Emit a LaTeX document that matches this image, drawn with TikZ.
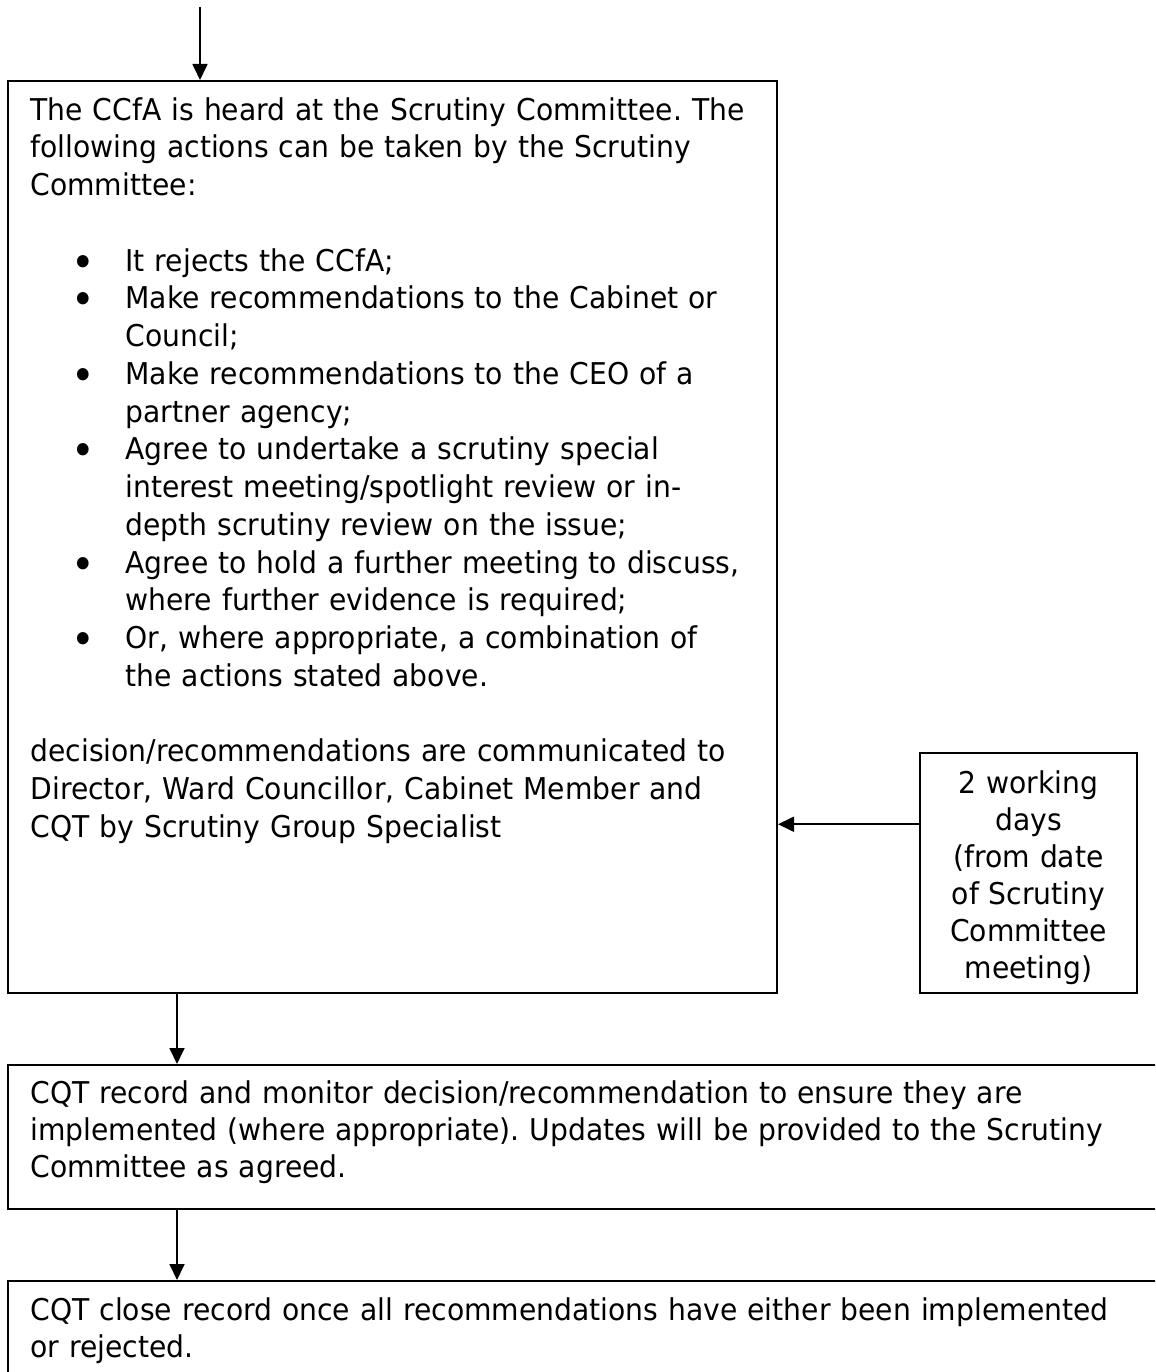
\documentclass[tikz,border=0pt]{standalone}
\usepackage{fontspec}
\setmainfont{DejaVu Sans}[FakeStretch=0.94]
\usetikzlibrary{arrows.meta}
\frenchspacing
\newcommand{\bitem}{\makebox[38pt][l]{\hspace{16.5pt}%
  \smash{\raisebox{-2.4pt}{\fontsize{17}{17}\selectfont\textbullet}}}}
\newcommand{\bcont}{\hspace*{38pt}}
\begin{document}
\begin{tikzpicture}
[x=0.4pt,y=-0.4pt,
  boxdecorate/.style={shape=rectangle,draw,line width=0.8pt,inner sep=0pt},
  textdecorate/.style={inner sep=0pt,align=left,text width=460pt,
    anchor=base west,font=\fontsize{12}{14.8}\selectfont},
  linedecorate/.style={-{Triangle[length=6.4pt,width=6pt]},line width=0.7pt}]
\useasboundingbox (0,0) rectangle (1155,1372);
\clip (0,0) rectangle (1155,1372);
%% boxes
\foreach \nodename/\x/\y/\w/\h in {scrutiny/392.5/537/307.6pt/364.8pt,
  timing/1028.5/873/86.8pt/96pt, monitor/591.5/1137/466.8pt/57.6pt,
  closing/591.5/1350.5/466.8pt/55.6pt} {
  \node (\nodename) at (\x,\y) [boxdecorate,minimum width=\w,minimum height=\h] {};
}
%% texts
\node (scrutinytext) at (30,120) [textdecorate,font=\fontsize{12}{15.1}\selectfont]
{The CCfA is heard at the Scrutiny Committee. The\\
following actions can be taken by the Scrutiny\\
Committee:\\[15.1pt]
\bitem It rejects the CCfA;\\
\bitem Make recommendations to the Cabinet or\\
\bcont Council;\\
\bitem Make recommendations to the CEO of a\\
\bcont partner agency;\\
\bitem Agree to undertake a scrutiny special\\
\bcont interest meeting/spotlight review or in-\\
\bcont depth scrutiny review on the issue;\\
\bitem Agree to hold a further meeting to discuss,\\
\bcont where further evidence is required;\\
\bitem Or, where appropriate, a combination of\\
\bcont the actions stated above.\\[15.1pt]
decision/recommendations are communicated to\\
Director, Ward Councillor, Cabinet Member and\\
CQT by Scrutiny Group Specialist};
\node (timingtext) at (1028.5,793) [textdecorate,anchor=base,align=center,
  text width=100pt] {2 working\\days\\(from date\\of Scrutiny\\Committee\\meeting)};
\node (monitortext) at (30,1103) [textdecorate]
{CQT record and monitor decision/recommendation to ensure they are\\
implemented (where appropriate). Updates will be provided to the Scrutiny\\
Committee as agreed.};
\node (closingtext) at (30,1320) [textdecorate]
{CQT close record once all recommendations have either been implemented\\
or rejected.};
%% arrows
\coordinate (entry) at (200,7);
\coordinate (drop) at (177,0);
\draw[linedecorate] (entry) -- (entry |- scrutiny.north);
\draw[linedecorate] (timing.156) -- (timing.156 -| scrutiny.east);
\draw[linedecorate] (scrutiny.south -| drop) -- (monitor.north -| drop);
\draw[linedecorate] (monitor.south -| drop) -- (closing.north -| drop);
\end{tikzpicture}
\end{document}
